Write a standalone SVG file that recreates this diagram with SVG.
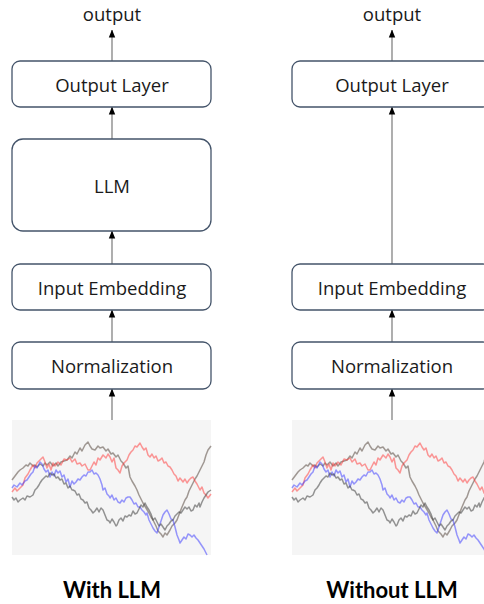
<svg xmlns="http://www.w3.org/2000/svg" width="484" height="604" viewBox="0 0 484 604">
<style>
.box{fill:#fff;stroke:#44546a;stroke-width:1.3}
.lbl{font-family:"Open Sans","Liberation Sans",sans-serif;font-size:18.5px;fill:#1a1a1a;text-anchor:middle;dominant-baseline:central}
.ttl{font-family:Lato,"Liberation Sans",sans-serif;font-size:22px;font-weight:bold;fill:#000;text-anchor:middle}
.con{stroke:#a6a6a6;stroke-width:1.8;fill:none;marker-end:url(#ah)}
.s{fill:none;stroke-width:1.5;stroke-linejoin:round}
</style>
<defs>
<marker id="ah" markerUnits="userSpaceOnUse" markerWidth="8" markerHeight="8" viewBox="0 0 8 8" refX="7.5" refY="4" orient="auto">
<path d="M0,0.8 L8,4 L0,7.2 Z" fill="#000"/>
</marker>
<g id="chart">
<rect x="12" y="420" width="199" height="135" fill="#f5f5f5"/>
<polyline class="s" stroke="#7a6f68" stroke-opacity="0.7" points="12,480 15,476 18,472 20,470 23,468 26,465 28,466 30,463 33,466 35,465 37,467 40,464 43,466 45,463 47,465 50,462 53,466 56,463 58,466 61,462 64,461 67,460 70,456 72,458 75,452 77,454 80,448 82,451 85,445 88,442 90,446 92,449 95,450 98,446 100,448 103,447 106,451 108,449 111,454 113,453 116,457 118,455 121,461 123,463 126,468 128,466 130,477 132,481 135,486 137,490 139,495 141,499 143,503 146,508 149,513 151,517 153,520 156,526 158,531 161,534 163,537 165,533 167,535 170,530 172,526 175,523 177,520 180,512 182,507 185,500 187,497 189,491 191,487 193,483 195,479 197,476 200,470 202,466 204,462 206,455 208,450 211,446"/>
<polyline class="s" stroke="#ff3333" stroke-opacity="0.5" points="12,492 15,488 17,491 20,488 23,485 25,478 28,474 30,470 33,465 35,468 37,463 40,460 43,457 45,462 47,468 49,464 51,470 53,463 55,466 58,462 61,465 64,459 67,460 70,458 72,462 75,459 77,464 80,463 82,466 85,464 88,470 90,470 92,466 94,462 96,465 98,458 100,460 103,455 106,458 108,454 110,457 112,462 114,458 116,468 118,470 120,473 122,466 124,463 127,460 129,455 131,452 133,450 135,446 137,447 140,443 142,447 144,450 146,448 148,455 150,457 152,454 154,458 156,456 158,461 160,460 162,458 164,463 166,462 168,466 170,467 172,470 174,474 176,476 178,481 180,478 183,482 185,479 187,483 189,480 191,478 193,477 195,481 197,484 199,488 200,490 202,487 204,493 206,495 208,498 211,494"/>
<polyline class="s" stroke="#3333ff" stroke-opacity="0.5" points="12,488 14,485 17,487 20,483 22,485 25,481 27,480 29,477 31,474 33,472 35,466 37,468 40,462 42,464 44,469 46,472 48,470 50,477 52,472 54,476 56,470 58,473 60,471 62,477 64,475 66,482 68,479 70,487 72,481 74,484 76,482 78,479 80,480 82,477 84,475 86,476 88,472 90,472 92,470 94,474 96,473 98,475 100,479 102,485 103,490 105,488 107,494 109,496 110,498 112,495 114,500 116,498 118,502 120,503 122,500 124,502 126,498 128,497 130,497 132,500 134,504 136,503 138,507 140,507 142,510 144,512 146,515 147,513 149,520 151,524 153,528 155,531 157,533 159,527 161,521 163,515 165,512 167,510 169,514 171,519 173,520 175,527 177,535 179,540 180,543 182,540 184,537 186,539 188,534 190,535 192,537 194,535 196,538 198,540 200,543 202,546 204,549 206,553 207,555"/>
<polyline class="s" stroke="#404040" stroke-opacity="0.55" points="12,497 14,500 16,498 18,502 20,500 23,498 25,500 27,496 30,497 33,495 35,490 37,488 39,485 40,483 42,480 44,478 46,476 48,477 50,473 52,475 54,474 56,478 58,477 60,480 62,479 64,484 66,483 68,488 70,486 72,490 73,490 75,491 77,495 79,494 81,499 83,500 85,503 87,502 89,508 91,510 93,513 95,511 97,508 99,512 101,508 103,510 105,515 107,520 109,521 110,523 112,519 114,522 116,526 117,525 119,520 121,518 123,521 125,516 127,517 129,515 131,516 133,511 135,514 137,513 139,509 141,505 143,507 145,503 147,507 149,510 151,514 153,520 155,518 157,522 159,526 161,524 163,527 165,530 167,526 169,524 171,521 173,520 175,516 177,514 179,512 181,513 183,510 185,507 187,509 189,507 191,511 193,510 195,505 197,507 199,503 200,507 202,502 204,498 206,495 208,492 211,490"/>
</g>
</defs>

<g id="connectors">
<line class="con" x1="112" y1="420" x2="112" y2="389"/>
<line class="con" x1="112" y1="342" x2="112" y2="310"/>
<line class="con" x1="112" y1="264" x2="112" y2="231"/>
<line class="con" x1="112" y1="139" x2="112" y2="107"/>
<line class="con" x1="112" y1="61" x2="112" y2="30"/>
<line class="con" x1="392" y1="420" x2="392" y2="389"/>
<line class="con" x1="392" y1="342" x2="392" y2="310"/>
<line class="con" x1="392" y1="264" x2="392" y2="107"/>
<line class="con" x1="392" y1="61" x2="392" y2="30"/>
</g>

<g id="left-chart"><use href="#chart"/></g>
<g id="right-chart"><use href="#chart" transform="translate(280,0)"/></g>

<g id="left-output-text"><text class="lbl" x="112" y="13">output</text></g>
<g id="left-output-layer"><rect class="box" x="12" y="61" width="199" height="46" rx="8"/><text class="lbl" x="112" y="84">Output Layer</text></g>
<g id="left-llm"><rect class="box" x="12" y="139" width="199" height="92" rx="11"/><text class="lbl" x="112" y="185">LLM</text></g>
<g id="left-input-embedding"><rect class="box" x="12" y="264" width="199" height="46" rx="8"/><text class="lbl" x="112" y="287">Input Embedding</text></g>
<g id="left-normalization"><rect class="box" x="12" y="342" width="199" height="47" rx="8"/><text class="lbl" x="112" y="365">Normalization</text></g>

<g id="right-output-text"><text class="lbl" x="392" y="13">output</text></g>
<g id="right-output-layer"><rect class="box" x="292" y="61" width="199" height="46" rx="8"/><text class="lbl" x="392" y="84">Output Layer</text></g>
<g id="right-input-embedding"><rect class="box" x="292" y="264" width="199" height="46" rx="8"/><text class="lbl" x="392" y="287">Input Embedding</text></g>
<g id="right-normalization"><rect class="box" x="292" y="342" width="199" height="47" rx="8"/><text class="lbl" x="392" y="365">Normalization</text></g>

<text class="ttl" x="112" y="598">With LLM</text>
<text class="ttl" x="392" y="598">Without LLM</text>
</svg>
